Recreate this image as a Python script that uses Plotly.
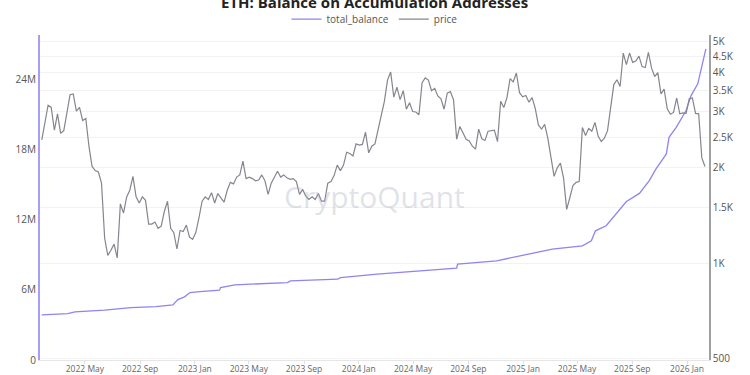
import numpy as np
import pandas as pd
import plotly.graph_objects as go

TITLE = "ETH: Balance on Accumulation Addresses"

# Weekly ETH price (USD), weeks starting 2022-01-25
price_start = "2022-01-25"
price_2022 = [2450, 2780, 3150, 3100, 2630, 2960, 2570, 2620, 3000, 3400,
              3420, 3020, 3100, 2820, 2860, 2340, 2020, 1960, 1940, 1790,
              1200, 1060, 1100, 1150, 1040, 1540, 1440, 1620, 1700, 1880,
              1620, 1550, 1620, 1580, 1330, 1330, 1350, 1290, 1310, 1460,
              1570, 1290, 1250, 1110, 1270, 1260, 1320, 1210, 1190]
price_2023 = [1250, 1390, 1570, 1620, 1590, 1670, 1550, 1660, 1610,
              1560, 1700, 1800, 1780, 1870, 1900, 2100, 1850,
              1870, 1850, 1820, 1830, 1900, 1820, 1650, 1790, 1870,
              1950, 1870, 1900, 1860, 1840, 1850, 1810, 1650, 1710,
              1630, 1590, 1620, 1590, 1660, 1570, 1570, 1790, 1810,
              1890, 2040, 1960, 2040, 2240, 2220, 2180, 2380]
price_2024 = [2360, 2370, 2590, 2230, 2340, 2380, 2660, 2960, 3240,
              3780, 4010, 3340, 3590, 3280, 3500, 3060, 3210, 3010,
              3000, 2940, 3710, 3840, 3780, 3500, 3560, 3370,
              3300, 3060, 3440, 3480, 3280, 2460, 2700, 2580, 2460,
              2430, 2340, 2290, 2650, 2470, 2440, 2610, 2620, 2630,
              2420, 3240, 3100, 3330, 3820, 3730, 3980, 3450, 3350]
price_2025 = [3380, 3220, 3330, 3080, 2730, 2650, 2740, 2480,
              2180, 1880, 2000, 2070, 1860, 1480, 1610, 1760, 1800,
              1810, 2680, 2530, 2660, 2610, 2780, 2520, 2420,
              2480, 2620, 3130, 3660, 3790, 3610, 4600, 4230, 4600,
              4300, 4340, 4500, 4170, 4140, 4620, 4130, 3880, 3990,
              3420, 3540, 3070, 2950, 2990, 3320, 2960, 2980, 2970]
price_2026 = [3300, 3320, 2970, 2960, 2150, 2020]
price = price_2022 + price_2023 + price_2024 + price_2025 + price_2026
price_dates = pd.date_range(price_start, periods=len(price), freq="7D")

# total_balance (ETH) read at points
balance_dates = ["2022-01-25", "2022-03-24", "2022-04-09", "2022-06-14", "2022-08-11",
                 "2022-10-06", "2022-11-13", "2022-11-24", "2022-12-09", "2022-12-21",
                 "2023-01-12", "2023-02-25", "2023-02-27", "2023-03-31", "2023-07-26",
                 "2023-08-02", "2023-11-15", "2023-11-21", "2024-02-11", "2024-08-06",
                 "2024-08-08", "2024-11-03", "2025-03-07", "2025-05-13", "2025-06-02",
                 "2025-06-11", "2025-07-05", "2025-07-27", "2025-08-19", "2025-09-17",
                 "2025-10-09", "2025-10-24", "2025-11-16", "2025-11-22", "2025-12-08",
                 "2025-12-30", "2026-01-10", "2026-01-25", "2026-02-05", "2026-02-12"]
balance_m = [3.86, 3.97, 4.11, 4.26, 4.48,
             4.57, 4.71, 5.17, 5.40, 5.77,
             5.85, 5.97, 6.20, 6.43, 6.62,
             6.77, 6.91, 7.05, 7.34, 7.86,
             8.20, 8.48, 9.49, 9.77, 10.2,
             11.05, 11.48, 12.54, 13.56, 14.25,
             15.34, 16.34, 17.63, 19.05, 19.9,
             21.34, 22.62, 23.62, 25.34, 26.62]
balance = [v * 1e6 for v in balance_m]

left_ticks = [0, 6e6, 12e6, 18e6, 24e6]
left_text = ["0", "6M", "12M", "18M", "24M"]
right_ticks = [500, 1000, 1500, 2000, 2500, 3000, 3500, 4000, 4500, 5000]
right_text = ["500", "1K", "1.5K", "2K", "2.5K", "3K", "3.5K", "4K", "4.5K", "5K"]

PURPLE = "#8e84f2"
GRAY = "#85858e"
FONT = "Open Sans"

fig = go.Figure()
fig.add_trace(go.Scatter(x=pd.to_datetime(balance_dates), y=balance, name="total_balance",
                         mode="lines", line=dict(color=PURPLE, width=1.3), yaxis="y"))
fig.add_trace(go.Scatter(x=price_dates, y=price, name="price", mode="lines",
                         line=dict(color=GRAY, width=1.2), yaxis="y2"))

fig.update_layout(
    width=750, height=375,
    margin=dict(l=40, r=41, t=35, b=15, autoexpand=False),
    paper_bgcolor="white", plot_bgcolor="white",
    font=dict(family=FONT, size=10, color="#555"),
    showlegend=True,
    legend=dict(orientation="h", x=0.5, xanchor="center", y=1.049, yanchor="middle",
                font=dict(size=10, color="#555"), itemwidth=30, bgcolor="rgba(0,0,0,0)"),
    xaxis=dict(type="date", range=["2022-01-21", "2026-02-19"],
               tick0="2022-01-01", dtick="M4", tickformat="%Y %b",
               showgrid=False, showline=True, linecolor="#e6e6e6", linewidth=1,
               ticks="outside", ticklen=3, tickcolor="#e0e0e0", ticklabelstandoff=-2,
               tickfont=dict(size=8.5, color="#666"), zeroline=False),
    yaxis=dict(range=[0, 27.8e6], tickvals=left_ticks, ticktext=left_text,
               showgrid=False, zeroline=False, showline=True, linecolor="#a69df5",
               linewidth=2, tickfont=dict(size=10, color="#555"), ticks=""),
    yaxis2=dict(type="log", range=[np.log10(496), np.log10(5244)], overlaying="y",
                side="right", tickvals=right_ticks, ticktext=right_text,
                showgrid=True, gridcolor="#f2f2f2", zeroline=False, showline=True,
                linecolor="#a0a0a0", linewidth=1.5, tickfont=dict(size=10, color="#555"),
                ticks=""),
)

fig.add_annotation(text="<b>" + TITLE + "</b>", xref="paper", yref="paper",
                   x=0.5, y=1 + 33 / 325, xanchor="center", yanchor="middle",
                   showarrow=False, font=dict(family=FONT, size=15, color="#222"))
fig.add_annotation(text="CryptoQuant", xref="paper", yref="paper",
                   x=0.5, y=(360 - 196) / 325, xanchor="center", yanchor="middle",
                   showarrow=False, font=dict(family=FONT, size=30, color="rgba(170,170,190,0.35)"))

fig.write_html("out.html")
